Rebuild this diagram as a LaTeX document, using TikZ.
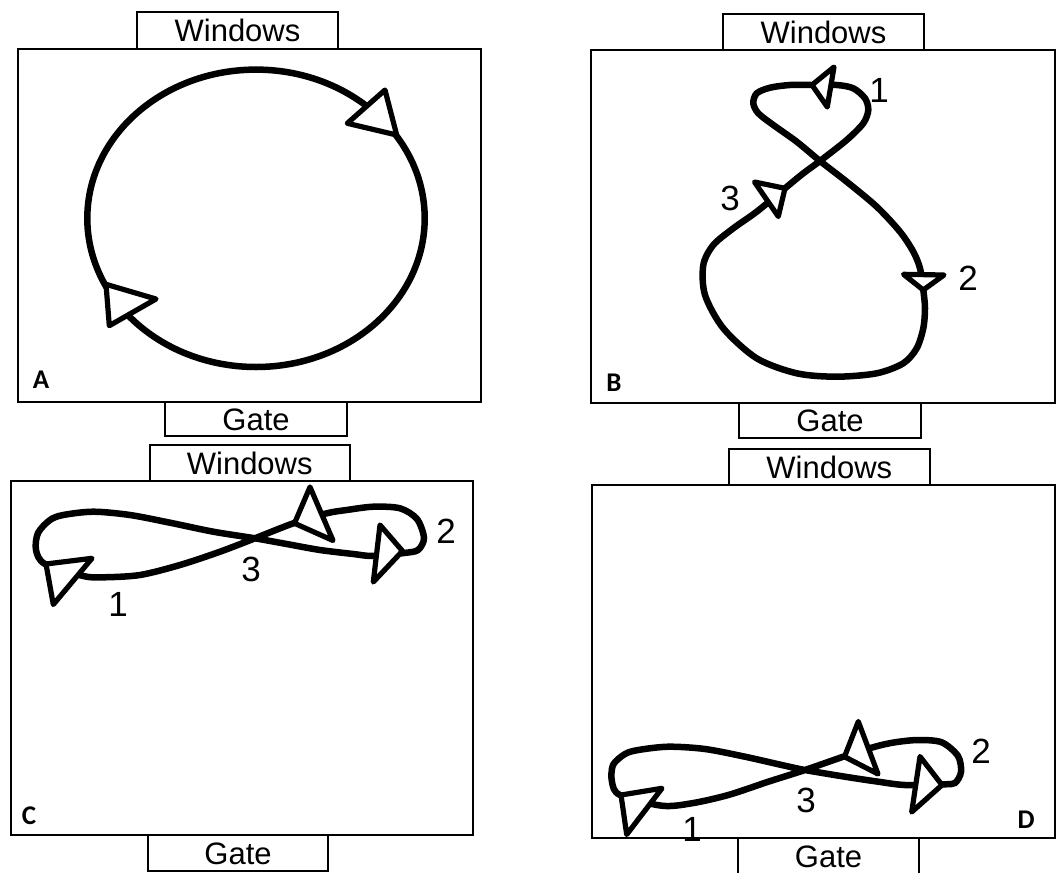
\documentclass[tikz,border=0pt]{standalone}
\usepackage{fontspec}
\setmainfont{Liberation Sans}
\newfontfamily\panelfont{Carlito}
\begin{document}
\begin{tikzpicture}[x=1pt,y=-1pt,
  panel/.style={draw=black,line width=1.8pt,rectangle,inner sep=0pt},
  tagbox/.style={draw=black,fill=white,line width=1.8pt,rectangle,inner sep=0pt,
    text height=22pt,text depth=0pt,font=\fontsize{31}{31}\selectfont},
  num/.style={inner sep=0pt,font=\fontsize{35}{35}\selectfont},
  plabel/.style={inner sep=0pt,font=\panelfont\bfseries\fontsize{27}{27}\selectfont},
  curve/.style={draw=black,line width=6.5pt},
  tri/.style={draw=black,fill=white,line width=5.2pt,line join=round}]
\useasboundingbox (0,0) rectangle (1058,873);

% ---------- panel boxes ----------
\node[panel,minimum width=463pt,minimum height=353pt] (pA) at (249.5,225.5) {};
\node[panel,minimum width=464pt,minimum height=353pt] (pB) at (823,226.5) {};
\node[panel,minimum width=462pt,minimum height=354pt] (pC) at (242,658) {};
\node[panel,minimum width=463pt,minimum height=353pt] (pD) at (823.5,661.5) {};

% ---------- windows / gate ----------
\node[tagbox,minimum width=201pt,minimum height=37pt] (wA) at (237.5,30.5) {Windows};
\node[tagbox,minimum width=182pt,minimum height=34pt] (gA) at (256,419) {Gate};
\node[tagbox,minimum width=201pt,minimum height=36pt] (wB) at (823.5,32) {Windows};
\node[tagbox,minimum width=182pt,minimum height=35pt] (gB) at (830,420.5) {Gate};
\node[tagbox,minimum width=200pt,minimum height=36pt] (wC) at (249.75,463) {Windows};
\node[tagbox,minimum width=180pt,minimum height=36pt] (gC) at (238,853) {Gate};
\node[tagbox,minimum width=201pt,minimum height=36pt] (wD) at (829.3,467) {Windows};
\node[tagbox,minimum width=181pt,minimum height=36pt] (gD) at (828.5,856) {Gate};

% ---------- panel letters ----------
\node[plabel] (lA) at (41,380) {A};
\node[plabel] (lB) at (614,383) {B};
\node[plabel] (lC) at (29,816) {C};
\node[plabel] (lD) at (1026,820) {D};

% ---------- panel A ----------
\draw[curve] (256,218.3) ellipse [x radius=168.7pt, y radius=148.7pt];
\draw[tri] (385,90) -- (347.3,123.3) -- (396.7,135) -- cycle;
\draw[tri] (106,284.3) -- (156,299) -- (109.3,325.7) -- cycle;

% ---------- panel B ----------
\draw[curve] plot[smooth cycle] coordinates {
 (820,161) (846.7,140) (863.3,123.3) (868.3,110) (865,98.3) (853.3,88.3) (836.7,85)
 (811.7,85) (790,85) (770,87.7) (756.7,93.3) (753.3,103.3) (758.3,113.3) (773.3,125)
 (796.7,141.7) (820,161) (846.7,181.7) (876.7,206.7) (900,231.7) (913.3,251.7)
 (920,268.3) (923.3,290) (925,308.3) (923.3,328.3) (916.7,348.3) (903.3,363.3)
 (876.7,373.3) (836.7,376.7) (796.7,373.3) (756.7,358.3) (723.3,328.3) (705,295)
 (703.3,265) (713.3,245) (733.3,228.3) (756.7,211.7) (785,188.3) (803.3,173.3)};
\draw[tri] (834,67) -- (812,85) -- (827.3,107) -- cycle;
\draw[tri] (903.5,274.3) -- (944,275) -- (923.3,290) -- cycle;
\draw[tri] (754.5,182) -- (785,188.3) -- (778.3,216.5) -- cycle;
\node[num] (b1) at (879,90) {1};
\node[num] (b2) at (968,278) {2};
\node[num] (b3) at (730,198) {3};

% ---------- panel C ----------
\draw[curve] plot[smooth cycle] coordinates {
 (255,538.3) (286.7,544) (320,550) (353.3,554) (373,556) (404,553) (418,550)
 (424,538) (417,519) (400,508.3) (373.3,506.7) (346.7,510) (326.7,513.3)
 (293.3,523.3) (255,538.3) (220,551.7) (180,565) (140,575) (103.3,577.3)
 (83.3,576) (45,564) (36,550) (38,533) (50,520) (63.3,515) (93.3,511.7)
 (130,515) (170,522.7) (213.3,531.7)};
\draw[tri] (46,564) -- (92,558.3) -- (53.3,604.5) -- cycle;
\draw[tri] (380,525) -- (373.3,582) -- (402.5,551) -- cycle;
\draw[tri] (310,487) -- (333,540.5) -- (294.5,523.3) -- cycle;
\node[num] (c1) at (118,604) {1};
\node[num] (c3) at (251,569) {3};
\node[num] (c2) at (446,531) {2};

% ---------- panel D ----------
\draw[curve] plot[smooth cycle] coordinates {
 (805,770) (845,776.7) (878.3,781.7) (905,785) (943.3,784.3) (955,783) (961,772)
 (958,756) (941.7,742.3) (918.3,740) (895,742.3) (875,746.7) (843.3,756.7)
 (805,770) (768.3,781.7) (728.3,795) (691.7,803.3) (661.7,805.7) (620,795)
 (612,782) (613,765) (625,754) (638.3,750) (668.3,746.7) (705,749) (745,756.7)
 (781.7,765)};
\draw[tri] (621,795) -- (662,788.3) -- (626.7,834.5) -- cycle;
\draw[tri] (920,756.5) -- (911.7,812) -- (942,785) -- cycle;
\draw[tri] (858.3,721.5) -- (878,774) -- (844.5,756.7) -- cycle;
\node[num] (d1) at (692,829) {1};
\node[num] (d3) at (806,800) {3};
\node[num] (d2) at (981,751) {2};
\end{tikzpicture}
\end{document}
